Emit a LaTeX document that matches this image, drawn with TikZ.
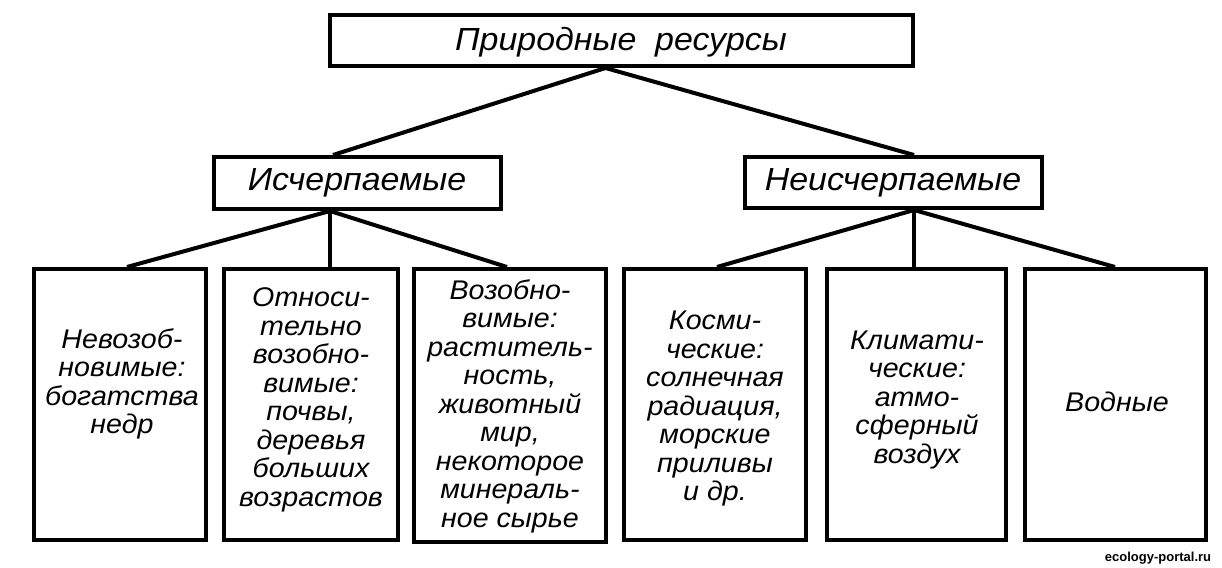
\documentclass[tikz,border=0pt]{standalone}
\usepackage{fontspec}
\setmainfont{Liberation Sans}
\newfontfamily\lab[FakeStretch=1.06]{Liberation Sans}
\usetikzlibrary{calc}
\tikzset{
  box/.style={draw, line width=4pt, inner sep=0pt},
  conn/.style={line width=4pt},
  head/.style={font=\lab\itshape\fontsize{32}{34}\selectfont, inner sep=0pt},
  body/.style={font=\lab\itshape\fontsize{27}{28.5}\selectfont, align=center, inner sep=0pt},
}
\begin{document}
\begin{tikzpicture}[x=1pt,y=-1pt]
\useasboundingbox (0,0) rectangle (1222,567);
% boxes
\node[box, minimum width=583pt, minimum height=51pt] (top) at (621.5,40.5) {};
\node[box, minimum width=287pt, minimum height=52pt] (isch) at (357.5,183) {};
\node[box, minimum width=297pt, minimum height=51pt] (neisch) at (893.5,182.5) {};
\node[box, minimum width=172pt, minimum height=271pt] (b1) at (120,404.5) {};
\node[box, minimum width=174pt, minimum height=271pt] (b2) at (311,404.5) {};
\node[box, minimum width=192pt, minimum height=273pt] (b3) at (510,405.5) {};
\node[box, minimum width=182pt, minimum height=271pt] (b4) at (715,404.5) {};
\node[box, minimum width=179pt, minimum height=271pt] (b5) at (916.5,404.5) {};
\node[box, minimum width=181pt, minimum height=271pt] (b6) at (1115.5,404.5) {};
% texts
\node[head] (ttop) at (621,42) {Природные \ ресурсы};
\node[head] (tisch) at (357,183) {Исчерпаемые};
\node[head] (tneisch) at (893,183) {Неисчерпаемые};
\node[body] (t1) at (122,384) {Невозоб-\\новимые:\\богатства\\недр};
\node[body] (t2) at (311,400) {Относи-\\тельно\\возобно-\\вимые:\\почвы,\\деревья\\больших\\возрастов};
\node[body] (t3) at (510,406) {Возобно-\\вимые:\\раститель-\\ность,\\животный\\мир,\\некоторое\\минераль-\\ное сырье};
\node[body] (t4) at (715,409) {Косми-\\ческие:\\солнечная\\радиация,\\морские\\приливы\\и др.};
\node[body] (t5) at (917,400) {Климати-\\ческие:\\атмо-\\сферный\\воздух};
\node[body] (t6) at (1117,402) {Водные};
\node[font=\bfseries\fontsize{13}{13}\selectfont, inner sep=0pt] (wm) at (1158,558) {ecology-portal.ru};
% connectors
\draw[conn] ([xshift=-16pt]top.south) -- ([xshift=-24.5pt]isch.north);
\draw[conn] ([xshift=-16pt]top.south) -- ([xshift=20.5pt]neisch.north);
\draw[conn] ([xshift=-27.5pt]isch.south) -- ([xshift=7pt]b1.north);
\draw[conn] ([xshift=-27.5pt]isch.south) -- ([xshift=19pt]b2.north);
\draw[conn] ([xshift=-27.5pt]isch.south) -- ([xshift=-3pt]b3.north);
\draw[conn] ([xshift=20.5pt]neisch.south) -- ([xshift=2pt]b4.north);
\draw[conn] ([xshift=20.5pt]neisch.south) -- ([xshift=-2.5pt]b5.north);
\draw[conn] ([xshift=20.5pt]neisch.south) -- ([xshift=-0.5pt]b6.north);
\end{tikzpicture}
\end{document}
